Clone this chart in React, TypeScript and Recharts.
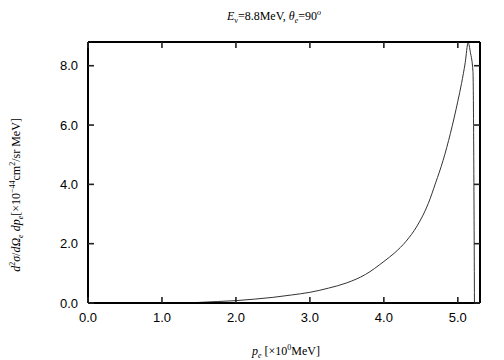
import React from "react";
import { LineChart, Line, XAxis, YAxis } from "recharts";

const pe = [1.25, 1.5, 1.75, 2.0, 2.25, 2.5, 2.75, 3.0, 3.25, 3.5, 3.75, 4.0, 4.15, 4.3, 4.45, 4.6, 4.7, 4.8, 4.9, 5.0, 5.05, 5.1, 5.14, 5.17, 5.205, 5.225];
const sigma = [0, 0.02, 0.05, 0.08, 0.13, 0.19, 0.27, 0.36, 0.5, 0.68, 0.96, 1.4, 1.7, 2.08, 2.6, 3.35, 4.05, 4.8, 5.72, 6.8, 7.4, 8.1, 8.78, 8.45, 7.8, 0];
const xTicks = [0, 1, 2, 3, 4, 5];
const yTicks = [0, 2, 4, 6, 8];

const data = pe.map((x, i) => ({ x, y: sigma[i] }));
const fmt = (v: number) => v.toFixed(1);
const serif = "Liberation Serif";
const sans = "Liberation Sans";
const frame = { stroke: "#000", strokeWidth: 2 };
const TL = 6;
const TW = 1.6;

const BottomTick = (p: any) => (
  <g>
    <rect x={p.x - TW / 2} y={p.y - TL} width={TW} height={TL} fill="#222" />
    <text x={p.x} y={p.y + 10} dy="0.71em" textAnchor="middle" fontFamily={sans} fontSize={13} fill="#000">{fmt(p.payload.value)}</text>
  </g>
);
const LeftTick = (p: any) => (
  <g>
    <rect x={p.x} y={p.y - TW / 2} width={TL} height={TW} fill="#222" />
    <text x={p.x - 10} y={p.y} dy="0.355em" textAnchor="end" fontFamily={sans} fontSize={13} fill="#000">{fmt(p.payload.value)}</text>
  </g>
);
const TopTick = (p: any) => <rect x={p.x - TW / 2} y={p.y} width={TW} height={TL} fill="#222" />;
const RightTick = (p: any) => <rect x={p.x - TL} y={p.y - TW / 2} width={TL} height={TW} fill="#222" />;

export default function App() {
  return (
    <div style={{ position: "fixed", left: 0, top: 0, width: 504, height: 360, background: "#fff" }}>
      <LineChart width={504} height={360} data={data} margin={{ top: 42, right: 24, left: 0, bottom: 0 }}>
        <XAxis xAxisId="b" dataKey="x" type="number" domain={[0, 5.3]} allowDataOverflow ticks={xTicks} interval={0}
          orientation="bottom" height={57} axisLine={frame} tickLine={false} tickSize={0} tickMargin={0} tick={BottomTick} />
        <XAxis xAxisId="t" dataKey="x" type="number" domain={[0, 5.3]} allowDataOverflow ticks={xTicks} interval={0}
          orientation="top" mirror axisLine={frame} tickLine={false} tickSize={0} tickMargin={0} tick={TopTick} />
        <YAxis yAxisId="l" type="number" domain={[0, 8.8]} allowDataOverflow ticks={yTicks} interval={0}
          orientation="left" width={88} axisLine={frame} tickLine={false} tickSize={0} tickMargin={0} tick={LeftTick} />
        <YAxis yAxisId="r" type="number" domain={[0, 8.8]} allowDataOverflow ticks={yTicks} interval={0}
          orientation="right" mirror axisLine={frame} tickLine={false} tickSize={0} tickMargin={0} tick={RightTick} />
        <Line xAxisId="t" yAxisId="r" dataKey="y" type="monotone" stroke="none" dot={false} isAnimationActive={false} />
        <Line xAxisId="b" yAxisId="l" dataKey="y" type="monotone" stroke="#333" strokeWidth={1} dot={false} isAnimationActive={false} />
      </LineChart>
      <svg width={504} height={360} style={{ position: "absolute", left: 0, top: 0, pointerEvents: "none" }}>
        <text x={274} y={20} textAnchor="middle" fontFamily={serif} fontSize={12} fill="#000">
          <tspan fontStyle="italic">E</tspan>
          <tspan fontSize={8} dy={3}>ν</tspan>
          <tspan dy={-3}>=8.8MeV,  </tspan>
          <tspan fontStyle="italic">θ</tspan>
          <tspan fontStyle="italic" fontSize={8} dy={3}>e</tspan>
          <tspan dy={-3}>=90</tspan>
          <tspan fontStyle="italic" fontSize={8} dy={-5}>o</tspan>
        </text>
        <text x={286} y={355} textAnchor="middle" fontFamily={serif} fontSize={12} fill="#000">
          <tspan fontStyle="italic">p</tspan>
          <tspan fontStyle="italic" fontSize={8} dy={3}>e</tspan>
          <tspan dy={-3}> [×10</tspan>
          <tspan fontSize={8} dy={-5}>0</tspan>
          <tspan dy={5}>MeV]</tspan>
        </text>
        <text x={0} y={0} transform="translate(20,195) rotate(-90)" textAnchor="middle" fontFamily={serif} fontSize={12} fill="#000">
          <tspan fontStyle="italic">d</tspan>
          <tspan fontSize={8} dy={-5}>2</tspan>
          <tspan fontStyle="italic" dy={5}>σ</tspan>
          <tspan>/</tspan>
          <tspan fontStyle="italic">d</tspan>
          <tspan fontStyle="italic">Ω</tspan>
          <tspan fontStyle="italic" fontSize={8} dy={3}>e</tspan>
          <tspan dy={-3}> </tspan>
          <tspan fontStyle="italic">dp</tspan>
          <tspan fontStyle="italic" fontSize={8} dy={3}>e</tspan>
          <tspan dy={-3}>[×10</tspan>
          <tspan fontSize={8} dy={-5}>−44</tspan>
          <tspan dy={5}>cm</tspan>
          <tspan fontSize={8} dy={-5}>2</tspan>
          <tspan dy={5}>/sr MeV]</tspan>
        </text>
      </svg>
    </div>
  );
}
